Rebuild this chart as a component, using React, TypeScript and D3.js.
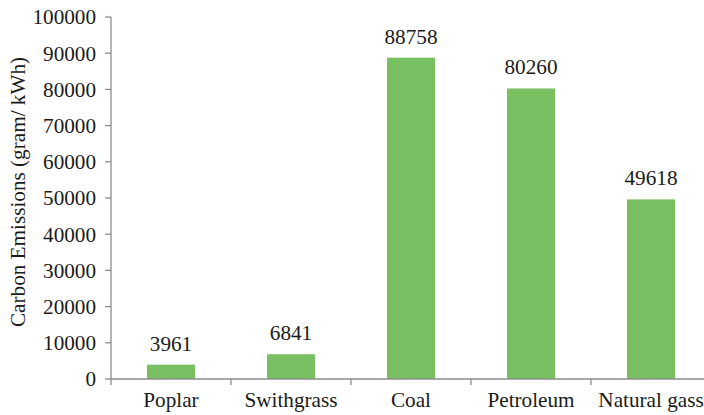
import React from "react";
import * as d3 from "d3";

const categories = ["Poplar", "Swithgrass", "Coal", "Petroleum", "Natural gass"];
const values = [3961, 6841, 88758, 80260, 49618];
const yTicks = [0, 10000, 20000, 30000, 40000, 50000, 60000, 70000, 80000, 90000, 100000];
const yTitle = "Carbon Emissions (gram/ kWh)";

export default function App() {
  const W = 704, H = 415;
  const left = 111, right = 711, top = 17, bottom = 379;
  const x = d3.scaleBand<string>().domain(categories).range([left, right]).padding(0);
  const y = d3.scaleLinear().domain([0, 100000]).range([bottom, top]);
  const bw = x.bandwidth() * 0.4;
  const font = "Liberation Serif, Times New Roman, serif";
  const fs = 21.2;
  const axisColor = "#8c8c8c";
  const textColor = "#1a1a1a";
  const boundaries = categories.map((c) => x(c)!).concat([right]);
  return (
    <svg width={W} height={H} style={{ position: "absolute", left: 0, top: 0, fontFamily: font }}>
      <rect width={W} height={H} fill="#fff" />
      {categories.map((c, i) => (
        <g key={c}>
          <rect
            x={x(c)! + (x.bandwidth() - bw) / 2}
            y={y(values[i])}
            width={bw}
            height={bottom - y(values[i])}
            fill="#78C062"
          />
          <text
            x={x(c)! + x.bandwidth() / 2}
            y={y(values[i]) - 14}
            textAnchor="middle"
            fontSize={fs}
            fill={textColor}
          >
            {values[i]}
          </text>
          <text
            x={x(c)! + x.bandwidth() / 2}
            y={bottom + 28}
            textAnchor="middle"
            fontSize={fs}
            fill={textColor}
          >
            {c}
          </text>
        </g>
      ))}
      <line x1={left} x2={left} y1={top} y2={bottom} stroke={axisColor} strokeWidth={1.3} />
      <line x1={left} x2={right} y1={bottom} y2={bottom} stroke={axisColor} strokeWidth={1.3} />
      {yTicks.map((t) => (
        <g key={t}>
          <line x1={left - 6} x2={left} y1={y(t)} y2={y(t)} stroke={axisColor} strokeWidth={1.3} />
          <text x={left - 15} y={y(t)} dy="0.35em" textAnchor="end" fontSize={fs} fill={textColor}>
            {t}
          </text>
        </g>
      ))}
      {boundaries.map((b, i) => (
        <line key={i} x1={b} x2={b} y1={bottom} y2={bottom + 6} stroke={axisColor} strokeWidth={1.3} />
      ))}
      <text
        transform={`translate(25, 192) rotate(-90)`}
        textAnchor="middle"
        fontSize={fs}
        fill={textColor}
      >
        {yTitle}
      </text>
    </svg>
  );
}
